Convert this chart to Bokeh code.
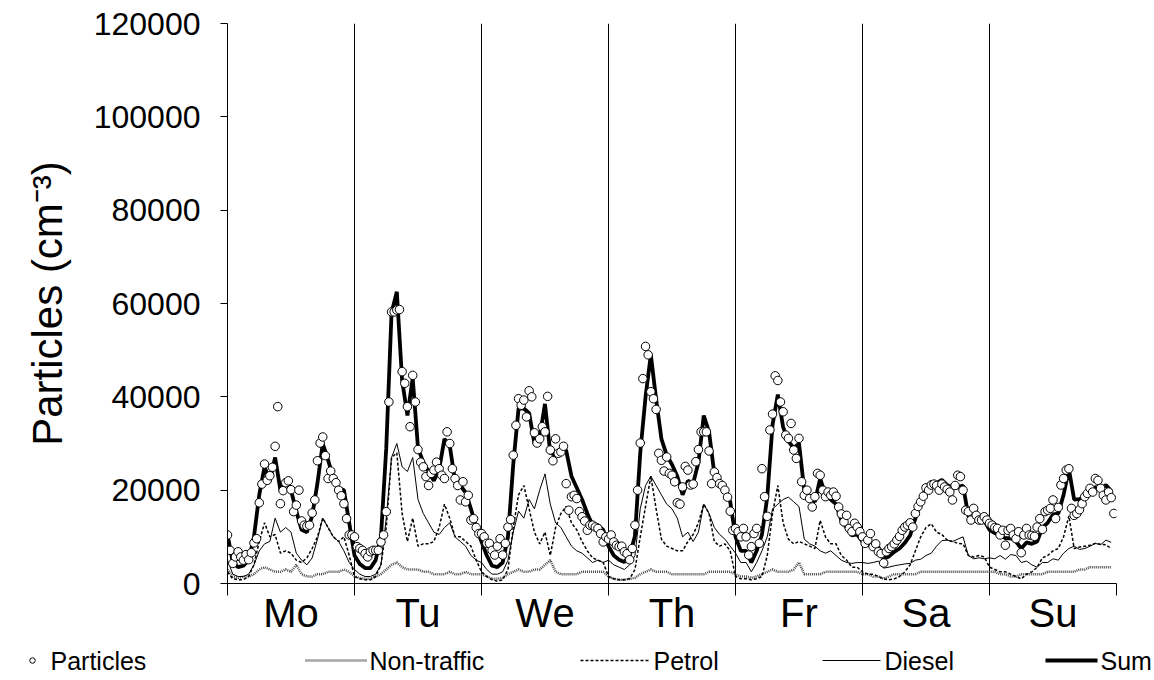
from bokeh.plotting import figure
from bokeh.models import FixedTicker, ColumnDataSource, Range1d
from bokeh.core.properties import value
from bokeh.embed import file_html
from bokeh.resources import INLINE

FONT = "Liberation Sans"

days = ["Mo", "Tu", "We", "Th", "Fr", "Sa", "Su"]
legend_labels = ["Particles", "Non-traffic", "Petrol", "Diesel", "Sum"]

# Particle number concentration, half-hourly, in thousands cm^-3
particles_k = [
    # Mo
    10.4, 7.1, 4.3, 5.7, 6.8, 5.7, 5.0, 6.2, 5.1, 6.6, 8.7, 9.6, 17.3, 21.3, 25.6, 22.1, 23.1, 24.9, 29.4, 37.9, 17.1, 19.9, 21.6, 22.0,
    20.1, 15.4, 16.8, 20.0, 13.4, 12.5, 12.3, 12.5, 15.1, 17.9, 26.3, 30.1, 31.4, 27.4, 22.5, 24.1, 22.5, 21.6, 20.0, 18.8, 17.1, 13.9, 10.4, 10.4,
    # Tu
    10.0, 7.9, 7.5, 7.1, 6.4, 5.7, 6.8, 7.1, 7.1, 7.1, 8.9, 10.4, 15.4, 38.9, 58.2, 58.2, 58.6, 58.7, 45.4, 42.9, 37.9, 33.6, 44.6, 38.9,
    28.7, 26.0, 25.0, 22.9, 21.0, 23.6, 24.3, 26.0, 24.6, 23.2, 22.5, 32.5, 30.0, 24.6, 22.5, 21.0, 17.9, 21.8, 17.5, 18.9, 13.6, 13.9, 12.0, 10.7,
    # We
    10.7, 10.0, 8.6, 8.6, 7.1, 6.1, 8.0, 9.6, 6.1, 8.6, 12.1, 13.7, 27.5, 33.9, 39.6, 38.2, 39.3, 35.7, 41.3, 40.0, 32.3, 30.1, 31.0, 33.6,
    32.5, 40.1, 28.6, 26.3, 31.0, 27.9, 28.2, 29.4, 21.4, 15.7, 18.6, 18.9, 18.2, 15.4, 14.3, 13.4, 11.4, 12.5, 12.5, 12.1, 11.8, 10.7, 8.9, 10.0,
    # Th
    9.5, 10.4, 8.9, 8.2, 7.9, 8.0, 6.8, 6.4, 5.1, 7.5, 12.5, 20.0, 30.1, 43.9, 50.8, 49.0, 41.1, 39.6, 37.3, 27.9, 26.4, 24.1, 27.1, 23.6,
    23.2, 21.8, 17.3, 17.0, 20.7, 25.1, 24.3, 21.1, 21.3, 26.1, 28.7, 32.5, 32.5, 32.5, 28.4, 21.4, 23.9, 22.7, 21.4, 21.0, 20.0, 18.5, 15.5, 11.4,
    # Fr
    11.8, 11.1, 10.0, 11.8, 10.0, 6.1, 7.9, 10.7, 11.8, 8.6, 24.6, 18.6, 14.4, 32.9, 36.3, 44.5, 43.5, 38.9, 36.8, 31.8, 31.1, 34.3, 28.6, 26.8,
    31.1, 21.8, 18.9, 20.0, 18.2, 16.4, 18.6, 23.6, 23.2, 20.0, 18.6, 19.6, 18.9, 19.6, 18.7, 16.4, 14.9, 13.2, 14.6, 11.8, 11.1, 12.9, 12.1, 11.1,
    # Sa
    10.0, 8.6, 9.3, 10.7, 7.9, 8.5, 6.8, 6.4, 4.4, 6.8, 7.5, 7.9, 8.5, 9.3, 10.1, 11.4, 12.1, 12.5, 13.0, 12.1, 15.0, 16.5, 17.5, 18.7,
    20.5, 20.0, 21.1, 21.3, 21.0, 20.0, 21.3, 20.7, 20.2, 19.6, 17.9, 21.0, 23.2, 22.9, 20.0, 15.7, 15.4, 13.6, 16.1, 14.6, 13.6, 13.6, 14.3, 13.6,
    # Su
    12.9, 12.5, 12.0, 11.8, 10.4, 11.4, 8.2, 11.4, 11.8, 10.4, 9.6, 11.1, 6.6, 10.4, 11.8, 10.4, 10.3, 10.1, 12.1, 13.9, 11.6, 15.4, 15.7, 16.1,
    17.9, 13.9, 16.3, 21.1, 22.5, 24.3, 24.6, 16.1, 14.6, 15.0, 15.8, 17.1, 18.6, 19.3, 20.4, 19.6, 22.5, 22.1, 20.4, 18.9, 17.9, 19.6, 18.4, 15.0,
]

# Source contributions, hourly, in thousands cm^-3
nontraffic_k = [
    3, 1.5, 1.2, 1.5, 1.5, 2, 3, 3.5, 3, 2.5, 2.5, 3, 2.5, 4, 2, 1.5, 1.5, 2, 2, 2.5, 2.5, 2.5, 3, 2.5,
    1.5, 1.2, 1, 1, 1.5, 2, 3, 4, 4.5, 3.5, 3, 3, 3, 2.5, 2.5, 2, 2, 2, 2.5, 2, 2, 2.5, 2, 2,
    2, 1.5, 1, 1, 1.2, 2, 2.5, 3, 2.5, 2.5, 3, 3, 4, 5, 2.5, 2, 2, 2, 2, 2.5, 2.5, 2.5, 2.5, 2.5,
    1.5, 1, 0.8, 0.8, 1, 1.2, 2, 2.5, 3, 2.5, 2.5, 2.5, 2, 2, 2, 2, 2, 2, 2, 2.5, 2.5, 2.5, 2.5, 2.5,
    2, 1.5, 1.5, 1.2, 1.5, 2, 2.5, 3, 2.5, 2.5, 2.5, 3, 4.5, 2, 2, 2, 2, 2.5, 2.5, 2.5, 2.5, 2.5, 2.5, 2.5,
    2, 2, 1.5, 1.5, 1, 1.5, 2, 2, 2, 2, 2, 2.5, 2.5, 2.5, 2.5, 2.5, 2.5, 2.5, 2.5, 2.5, 2.5, 2.5, 2.5, 2.5,
    2.5, 2.5, 2, 2, 1.5, 1.5, 2, 2, 2, 2, 2, 2.5, 2.5, 2.5, 2.5, 2.5, 2.5, 3, 3, 3.5, 3.5, 3.5, 3.5, 3.5,
]

petrol_k = [
    2.5, 1, 0.8, 0.8, 1.5, 4, 9, 13, 10, 10.5, 6.5, 7, 6.5, 5, 4.5, 5.5, 7.5, 10, 14, 12, 10, 9, 10, 6,
    1.5, 1, 0.8, 0.8, 1.5, 4, 12, 27, 28, 15, 9, 14, 8, 8.5, 8.5, 9, 12, 17, 14, 10, 10, 9, 8, 5,
    2.5, 1.5, 0.8, 0.5, 0.8, 3, 12, 19, 21, 16, 11, 8.5, 11, 6, 12, 15, 16.5, 13, 11.5, 9, 7, 5.5, 5, 4.5,
    1.5, 1, 0.8, 0.8, 1, 3, 10, 16.5, 23, 16, 9.5, 8, 7.5, 7, 7, 9, 10.5, 13, 17, 15, 9, 8, 8.5, 7,
    1.5, 1, 1, 0.8, 1, 1.5, 6, 15, 21, 13, 9.5, 8.5, 9, 8.5, 8, 7.5, 13.5, 10, 8.5, 8.5, 6, 5, 3.5, 3.5,
    2.5, 2, 2, 1.5, 1, 0.8, 1, 1.5, 2.5, 4, 7, 10, 12, 12.8, 11, 10.5, 9.3, 9, 8.6, 8.5, 6, 5.7, 6, 5.7,
    3.5, 3, 2.5, 2.5, 2, 1.5, 1, 2, 2.5, 3.5, 5.5, 6, 7, 7.5, 10, 14.5, 7.5, 7.8, 8, 8.2, 8.6, 8.4, 8.3, 7.5,
]

diesel_k = [
    5, 2, 1.5, 1.5, 2, 4, 7, 8.5, 9, 14, 11, 12, 11, 6.5, 5, 4, 5.5, 9.5, 14, 12, 10, 9, 7, 4.5,
    3, 2, 1.5, 1.5, 2, 4, 14, 27, 30, 25, 24, 27, 18, 15, 13, 11, 10.5, 12, 13, 10, 9, 8, 6, 5,
    4.5, 3, 2, 2, 2.5, 5, 11, 15.5, 14, 18, 16, 20, 23.5, 17, 13, 12, 10, 8, 7, 6.5, 5.5, 4.5, 5, 4.5,
    5, 4, 3.5, 3, 4, 6, 16, 21, 23, 21, 19, 17, 16, 14, 10, 11, 9, 11, 17, 15, 12, 10.5, 9.5, 8,
    6.5, 4.5, 4.5, 2.5, 4.5, 7, 10, 16, 17, 18, 18.5, 17.5, 16.5, 9.5, 8.5, 8, 7, 6.5, 7, 6, 5, 4.5, 4.3, 4.5,
    4.5, 4.3, 4.5, 4.8, 3.3, 3.5, 3.8, 4, 4.2, 4.3, 5, 5.2, 6, 6.5, 8, 9.2, 9.3, 9, 9.5, 10, 6, 5.3, 5.5, 5.3,
    5.5, 5.3, 6, 5.2, 6.2, 6, 4.5, 4.8, 4, 3.5, 4.5, 4.5, 5.3, 5, 6.5, 7.5, 8, 7.3, 7.5, 8, 8.6, 8.3, 9.3, 8.8,
]

assert len(particles_k) == 336
assert len(nontraffic_k) == len(petrol_k) == len(diesel_k) == 168

x_half = [i * 0.5 for i in range(336)]
x_hour = list(range(168))
particles = [v * 1000 for v in particles_k]
nontraffic = [v * 1000 for v in nontraffic_k]
petrol = [v * 1000 for v in petrol_k]
diesel = [v * 1000 for v in diesel_k]
total = [a + b + c for a, b, c in zip(nontraffic, petrol, diesel)]

src_p = ColumnDataSource(dict(x=x_half, y=particles))
src_l = ColumnDataSource(dict(x=x_hour, nt=nontraffic, pe=petrol, di=diesel, su=total))

# ---------------- styles ----------------
NT_STYLE = dict(line_color="#4a4a4a", line_width=2.5, line_dash="1 1")
PE_STYLE = dict(line_color="black", line_width=1.5, line_dash="3 2")
DI_STYLE = dict(line_color="black", line_width=1)
SU_STYLE = dict(line_color="black", line_width=3.8)
PA_STYLE = dict(marker="circle", fill_color="white", line_color="black", line_width=1)

p = figure(width=1154, height=640, output_backend="svg", toolbar_location=None,
           x_range=(0, 168), y_range=(0, 120000),
           min_border_left=227, min_border_right=38, min_border_top=23, min_border_bottom=57)
p.outline_line_color = None
p.background_fill_color = "white"

p.line("x", "nt", source=src_l, **NT_STYLE)
p.line("x", "pe", source=src_l, **PE_STYLE)
p.line("x", "di", source=src_l, **DI_STYLE)
p.line("x", "su", source=src_l, **SU_STYLE)
p.scatter("x", "y", source=src_p, size=8.5, **PA_STYLE)

# x axis: day names centred, day boundaries as (minor) ticks
xa = p.xaxis[0]
xa.ticker = FixedTicker(ticks=[12 + 24 * i for i in range(7)],
                        minor_ticks=[24 * i for i in range(8)])
xa.major_label_overrides = {12 + 24 * i: d for i, d in enumerate(days)}
xa.major_tick_line_color = None
xa.major_tick_out = 0
xa.major_tick_in = 0
xa.minor_tick_out = 12
xa.minor_tick_in = 0
xa.minor_tick_line_color = "black"
xa.axis_line_color = "black"
xa.major_label_text_font = FONT
xa.major_label_text_font_size = "40px"
xa.major_label_text_color = "black"
xa.major_label_standoff = -5

yt = [0, 20000, 40000, 60000, 80000, 100000, 120000]
ya = p.yaxis[0]
ya.ticker = FixedTicker(ticks=yt)
ya.major_label_overrides = {v: str(v) for v in yt}
ya.major_tick_out = 7
ya.major_tick_in = 0
ya.minor_tick_line_color = None
ya.axis_line_color = "black"
ya.major_label_text_font = FONT
ya.major_label_text_font_size = "32px"
ya.major_label_text_color = "black"
ya.major_label_standoff = 20
ya.axis_label = "Particles (cm\u207b\u00b3)"
ya.axis_label_text_font = FONT
ya.axis_label_text_font_size = "42px"
ya.axis_label_text_font_style = "normal"
ya.axis_label_text_color = "black"
ya.axis_label_standoff = 20

p.xgrid.ticker = FixedTicker(ticks=[24 * i for i in range(1, 8)])
p.xgrid.grid_line_color = "black"
p.xgrid.grid_line_width = 1
p.ygrid.grid_line_color = None

# ---------------- legend strip (separate root, drawn below the chart) ----------------
lg = figure(width=1154, height=40, output_backend="svg", toolbar_location=None,
            x_range=Range1d(0, 1154), y_range=Range1d(40, 0),
            min_border=0, x_axis_type=None, y_axis_type=None)
lg.outline_line_color = None
lg.grid.visible = False

LY = 20  # legend row centre (px in strip)
lg.scatter([32], [LY], size=5.5, **PA_STYLE)
lg.line([305, 366], [LY, LY], **NT_STYLE)
lg.line([580, 650], [LY, LY], **PE_STYLE)
lg.line([822, 880], [LY, LY], **DI_STYLE)
lg.line([1045, 1097], [LY, LY], **SU_STYLE)
lg.text(x=[50, 369, 653, 884, 1100], y=[LY] * 5, text=legend_labels,
        text_font=value(FONT), text_font_size="25px", text_color="black",
        text_baseline="middle", text_align="left")

open("out.html", "w").write(file_html([p, lg], INLINE))
